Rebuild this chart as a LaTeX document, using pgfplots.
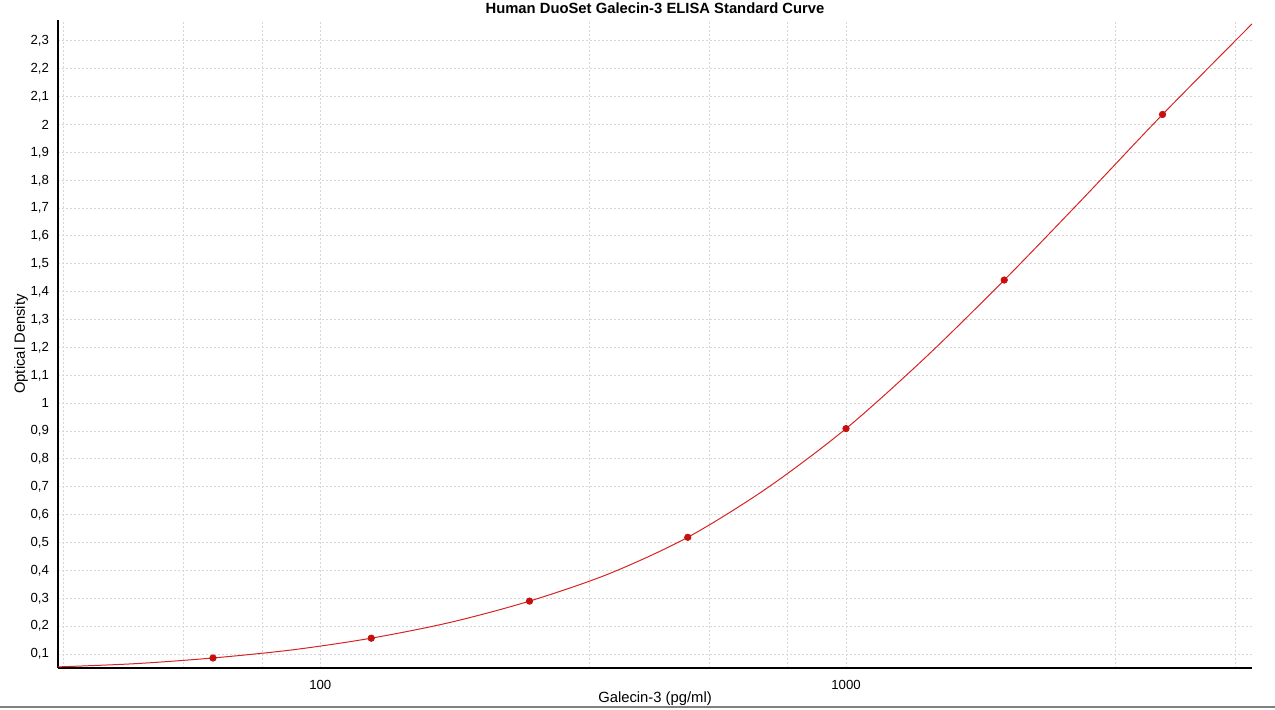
\documentclass[border=0pt]{standalone}
\usepackage{fontspec}
\setmainfont{Liberation Sans}
\usepackage{pgfplots}
\pgfplotsset{compat=1.18}

\definecolor{curvered}{RGB}{215,35,35}
\definecolor{ptred}{RGB}{200,15,15}
\definecolor{gridgray}{RGB}{215,215,215}

\begin{document}
\begin{tikzpicture}
% page = 1275 x 709 px at 0.5pt per px, axis box at (0,0)
\path[use as bounding box] (-29pt,-20.5pt) rectangle (608.5pt,334pt);
\begin{axis}[
    name=main,
    at={(0,0)}, anchor=south west,
    scale only axis,
    width=597pt, height=324pt,
    xmode=log,
    xmin=31.7, xmax=5920,
    ymin=0.05, ymax=2.375,
    axis x line*=bottom, axis y line*=left,
    axis line style={line width=1pt,-},
    xtick={32.5,55,77.5,100,325,550,775,1000,3250,5500},
    xticklabels={,,,100,,,,1000,,},
    ytick distance=0.1,
    grid=major,
    major grid style={gridgray, dash pattern=on 1pt off 1pt, line width=0.5pt},
    major tick length=0pt,
    tick label style={font=\fontsize{6.6}{8}\selectfont},
    /pgf/number format/use comma,
    /pgf/number format/assume math mode=true,
    xticklabel style={yshift=-2.5pt},
    yticklabel style={xshift=-1pt},
]

% fitted standard curve
\addplot[curvered, line width=0.5pt, smooth, no marks] coordinates {
    (31.7, 0.054)
    (44.5, 0.0656)
    (62.5, 0.086)
    (88.4, 0.115)
    (125, 0.157)
    (177, 0.214)
    (250, 0.290)
    (354, 0.388)
    (500, 0.519)
    (707, 0.695)
    (1000, 0.909)
    (1414, 1.163)
    (2000, 1.442)
    (2828, 1.736)
    (4000, 2.036)
    (5920, 2.361)
};

% standards
\addplot[only marks, mark=*, mark size=1.6pt, ptred] coordinates {
    (62.5, 0.086)
    (125, 0.157)
    (250, 0.290)
    (500, 0.519)
    (1000, 0.909)
    (2000, 1.442)
    (4000, 2.036)
};
\end{axis}

\node[font=\fontsize{7.4}{9}\selectfont\bfseries] at ([yshift=6pt]main.north) {Human DuoSet Galecin-3 ELISA Standard Curve};
\node[font=\fontsize{7.4}{9}\selectfont] at ([yshift=-15.5pt]main.south) {Galecin-3 (pg/ml)};
\node[font=\fontsize{7.4}{9}\selectfont, rotate=90] at ([xshift=-18.5pt]main.west) {Optical Density};

\draw[gray, line width=1pt] (-29pt,-19.5pt) -- (608.5pt,-19.5pt);
\end{tikzpicture}
\end{document}
